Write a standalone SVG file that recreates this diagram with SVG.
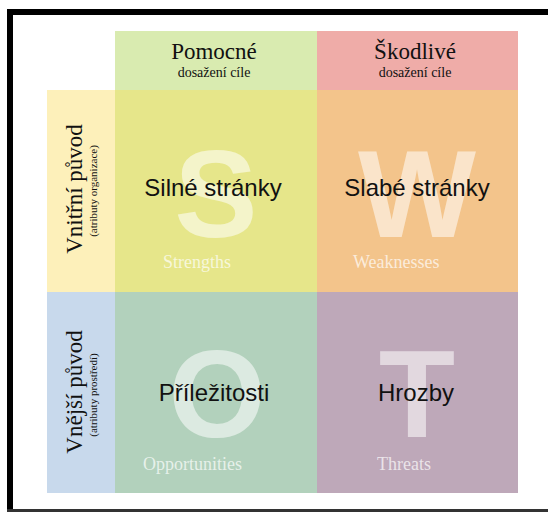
<svg xmlns="http://www.w3.org/2000/svg" width="548" height="512" viewBox="0 0 548 512">
<style>
.hdr{font-family:"Liberation Serif","Times New Roman",serif;fill:#111;text-anchor:middle}
.big{font-family:"Liberation Sans",Arial,sans-serif;font-weight:bold;font-size:125px;fill:#fff;fill-opacity:0.55;text-anchor:middle}
.main{font-family:"Liberation Sans",Arial,sans-serif;font-size:24px;fill:#111;text-anchor:middle}
.eng{font-family:"Liberation Serif","Times New Roman",serif;font-size:18px;fill:#fff;fill-opacity:0.7}
.side{font-family:"Liberation Serif","Times New Roman",serif;fill:#111;text-anchor:middle}
</style>
<rect width="548" height="512" fill="#fff"/>
<g id="frame">
<rect x="7" y="9" width="541" height="6" fill="#000"/>
<rect x="7" y="9" width="6" height="503" fill="#000"/>
<rect x="7" y="509" width="541" height="3" fill="#333"/>
</g>
<g id="header-pomocne">
<rect x="115" y="31" width="202" height="59" fill="#d9ebb0"/>
<text class="hdr" x="214" y="59" font-size="23">Pomocné</text>
<text class="hdr" x="214" y="77" font-size="14">dosažení cíle</text>
</g>
<g id="header-skodlive">
<rect x="317" y="31" width="201" height="59" fill="#efaca8"/>
<text class="hdr" x="415" y="59" font-size="23">Škodlivé</text>
<text class="hdr" x="415" y="77" font-size="14">dosažení cíle</text>
</g>
<g id="row-vnitrni">
<rect x="47" y="90" width="68" height="202" fill="#fdf0ba"/>
<text class="side" transform="translate(82,189) rotate(-90)" font-size="23">Vnitřní původ</text>
<text class="side" transform="translate(97,191) rotate(-90)" font-size="11">(atributy organizace)</text>
</g>
<g id="row-vnejsi">
<rect x="47" y="292" width="68" height="201" fill="#c8d9ec"/>
<text class="side" transform="translate(82,392) rotate(-90)" font-size="23">Vnější původ</text>
<text class="side" transform="translate(97,395) rotate(-90)" font-size="11">(atributy prostředí)</text>
</g>
<g id="strengths">
<rect x="115" y="90" width="202" height="202" fill="#e6e68a"/>
<text class="big" x="216" y="237">S</text>
<text class="main" x="213" y="196">Silné stránky</text>
<text class="eng" x="163" y="268">Strengths</text>
</g>
<g id="weaknesses">
<rect x="317" y="90" width="201" height="202" fill="#f3c48b"/>
<text class="big" x="417" y="237">W</text>
<text class="main" x="417" y="196">Slabé stránky</text>
<text class="eng" x="353" y="268">Weaknesses</text>
</g>
<g id="opportunities">
<rect x="115" y="292" width="202" height="201" fill="#b2d1bc"/>
<text class="big" x="217" y="437">O</text>
<text class="main" x="214" y="401">Příležitosti</text>
<text class="eng" x="143" y="470">Opportunities</text>
</g>
<g id="threats">
<rect x="317" y="292" width="201" height="201" fill="#bea8b9"/>
<text class="big" x="417" y="437">T</text>
<text class="main" x="416" y="401">Hrozby</text>
<text class="eng" x="377" y="470">Threats</text>
</g>
</svg>
